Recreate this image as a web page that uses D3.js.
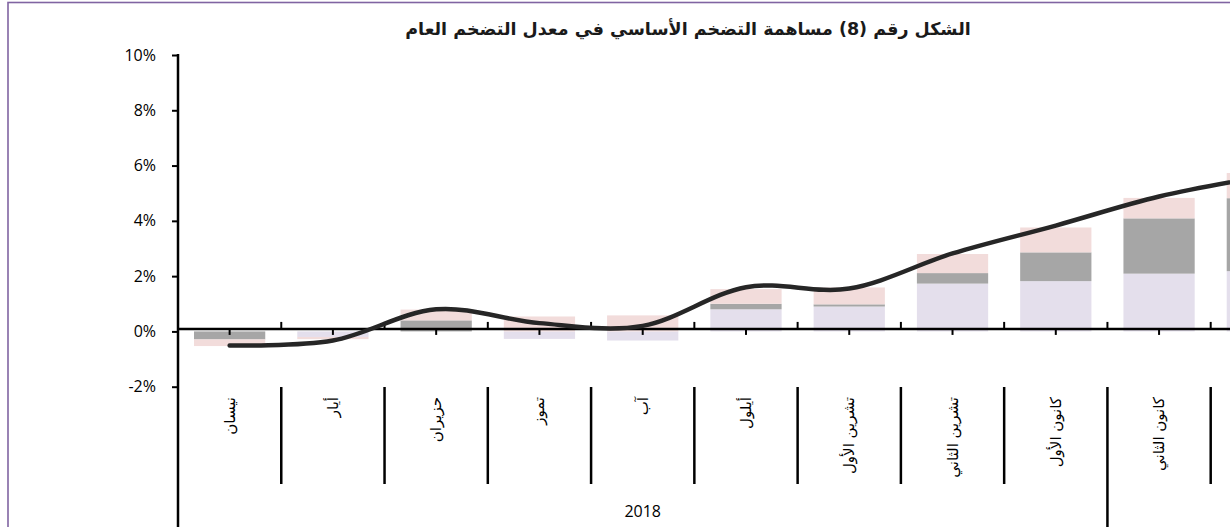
<!DOCTYPE html>
<html lang="ar">
<head>
<meta charset="utf-8">
<script src="https://cdn.jsdelivr.net/npm/d3@7"></script>
<style>
  html, body { margin: 0; padding: 0; background: #fff; overflow: hidden; }
  svg { display: block; }
</style>
</head>
<body>
<svg id="chart" width="1230" height="527"></svg>
<script>
// ---- data ----
const title = "الشكل رقم (8) مساهمة التضخم الأساسي في معدل التضخم العام";
const months = ["نيسان", "أيار", "حزيران", "تموز", "آب", "أيلول", "تشرين الأول", "تشرين الثاني", "كانون الأول", "كانون الثاني", "شباط"];
const years = [{ label: "2018", from: 0, to: 9 }, { label: "2019", from: 9, to: 11 }];
const seriesLavender = [0.0, -0.2, 0.0, -0.27, -0.33, 0.8, 0.9, 1.73, 1.82, 2.09, 2.18];
const seriesGray     = [-0.29, 0.0, 0.4, 0.0, 0.0, 0.2, 0.08, 0.38, 1.04, 2.0, 2.64];
const seriesPink     = [-0.24, -0.08, 0.39, 0.54, 0.58, 0.53, 0.61, 0.69, 0.9, 0.74, 0.91];
const lineTotal      = [-0.51, -0.33, 0.8, 0.3, 0.2, 1.6, 1.55, 2.82, 3.83, 4.88, 5.6];
const yTicks = [-2, 0, 2, 4, 6, 8, 10];

// ---- layout ----
const W = 1230;
const svg = d3.select("#chart");
const x0 = 178, step = 103.27;
const x = d3.scaleBand().domain(months)
  .range([x0, x0 + step * months.length])
  .paddingInner(0.31).paddingOuter(0.155);
const y = d3.scaleLinear().domain([-2, 10]).range([386.7, 55]);

// frame
svg.append("rect").attr("x", 8).attr("y", 2.5).attr("width", 1400).attr("height", 700)
  .attr("fill", "none").attr("stroke", "#8064a2").attr("stroke-width", 1.6);

// title
svg.append("text").attr("x", 688).attr("y", 35)
  .attr("text-anchor", "middle").attr("direction", "rtl")
  .style("font-family", "'DejaVu Sans', sans-serif").style("font-weight", "bold")
  .style("font-size", "17.5px").attr("fill", "#1a1a1a").text(title);

// stacked bars
const rows = months.map((m, i) => ({ m, a: seriesLavender[i], b: seriesGray[i], c: seriesPink[i] }));
const stack = d3.stack().keys(["a", "b", "c"]).offset(d3.stackOffsetDiverging);
const colors = { a: "#e4dfec", b: "#a6a6a6", c: "#f2dcdb" };
const layers = stack(rows);
svg.append("g").selectAll("g").data(layers).join("g")
  .attr("fill", d => colors[d.key])
  .selectAll("rect").data(d => d).join("rect")
  .attr("x", d => x(d.data.m))
  .attr("width", x.bandwidth())
  .attr("y", d => y(Math.max(d[0], d[1])))
  .attr("height", d => Math.abs(y(d[0]) - y(d[1])));

// zero axis line with ticks
const zy = y(0) - 2.5;
svg.append("line").attr("x1", x0).attr("x2", W).attr("y1", zy).attr("y2", zy)
  .attr("stroke", "#000").attr("stroke-width", 2.5);
const g0 = svg.append("g");
months.forEach((m, i) => {
  const bx = x0 + step * (i + 1);
  g0.append("line").attr("x1", bx).attr("x2", bx).attr("y1", zy).attr("y2", zy - 7)
    .attr("stroke", "#000").attr("stroke-width", 2);
  const cx = x(m) + x.bandwidth() / 2;
  g0.append("line").attr("x1", cx).attr("x2", cx).attr("y1", zy).attr("y2", zy + 6)
    .attr("stroke", "#000").attr("stroke-width", 2);
});

// line
const line = d3.line()
  .x((d, i) => x(months[i]) + x.bandwidth() / 2)
  .y(d => y(d))
  .curve(d3.curveCardinal.tension(0));
svg.append("path").datum(lineTotal).attr("d", line)
  .attr("fill", "none").attr("stroke", "#262626").attr("stroke-width", 4.5)
  .attr("stroke-linecap", "round").attr("stroke-linejoin", "round");

// y axis
const yAxis = d3.axisLeft(y).tickValues(yTicks).tickFormat(d => d + "%").tickSize(6).tickPadding(16);
const ga = svg.append("g").attr("transform", `translate(${x0},0)`).call(yAxis);
ga.select(".domain").remove();
ga.selectAll(".tick line").attr("stroke", "#000").attr("stroke-width", 2);
ga.selectAll(".tick text").style("font-family", "'Open Sans', sans-serif").style("font-size", "16px").attr("fill", "#000");
svg.append("line").attr("x1", x0).attr("x2", x0).attr("y1", y(10) - 1).attr("y2", 527)
  .attr("stroke", "#000").attr("stroke-width", 2.5);

// category axis (multi-level)
const gc = svg.append("g");
months.forEach((m, i) => {
  const bx = x0 + step * (i + 1);
  const isYearEdge = years.some(yr => yr.to === i + 1 && yr.to < months.length);
  gc.append("line").attr("x1", bx).attr("x2", bx).attr("y1", 387).attr("y2", isYearEdge ? 527 : 484)
    .attr("stroke", "#000").attr("stroke-width", 2.5);
  const cx = x(m) + x.bandwidth() / 2 + 5;
  if (cx < W - 10) {
    gc.append("text").attr("transform", `translate(${cx},397) rotate(-90)`)
      .attr("text-anchor", "end")
      .style("font-family", "'DejaVu Sans', sans-serif").style("font-size", "15px")
      .attr("fill", "#000").text(m);
  }
});
years.forEach(yr => {
  const cx = (x0 + step * yr.from + x0 + step * yr.to) / 2;
  if (cx < W - 30) {
    gc.append("text").attr("x", cx).attr("y", 517).attr("text-anchor", "middle")
      .style("font-family", "'Open Sans', sans-serif").style("font-size", "16px")
      .attr("fill", "#000").text(yr.label);
  }
});
</script>
</body>
</html>
